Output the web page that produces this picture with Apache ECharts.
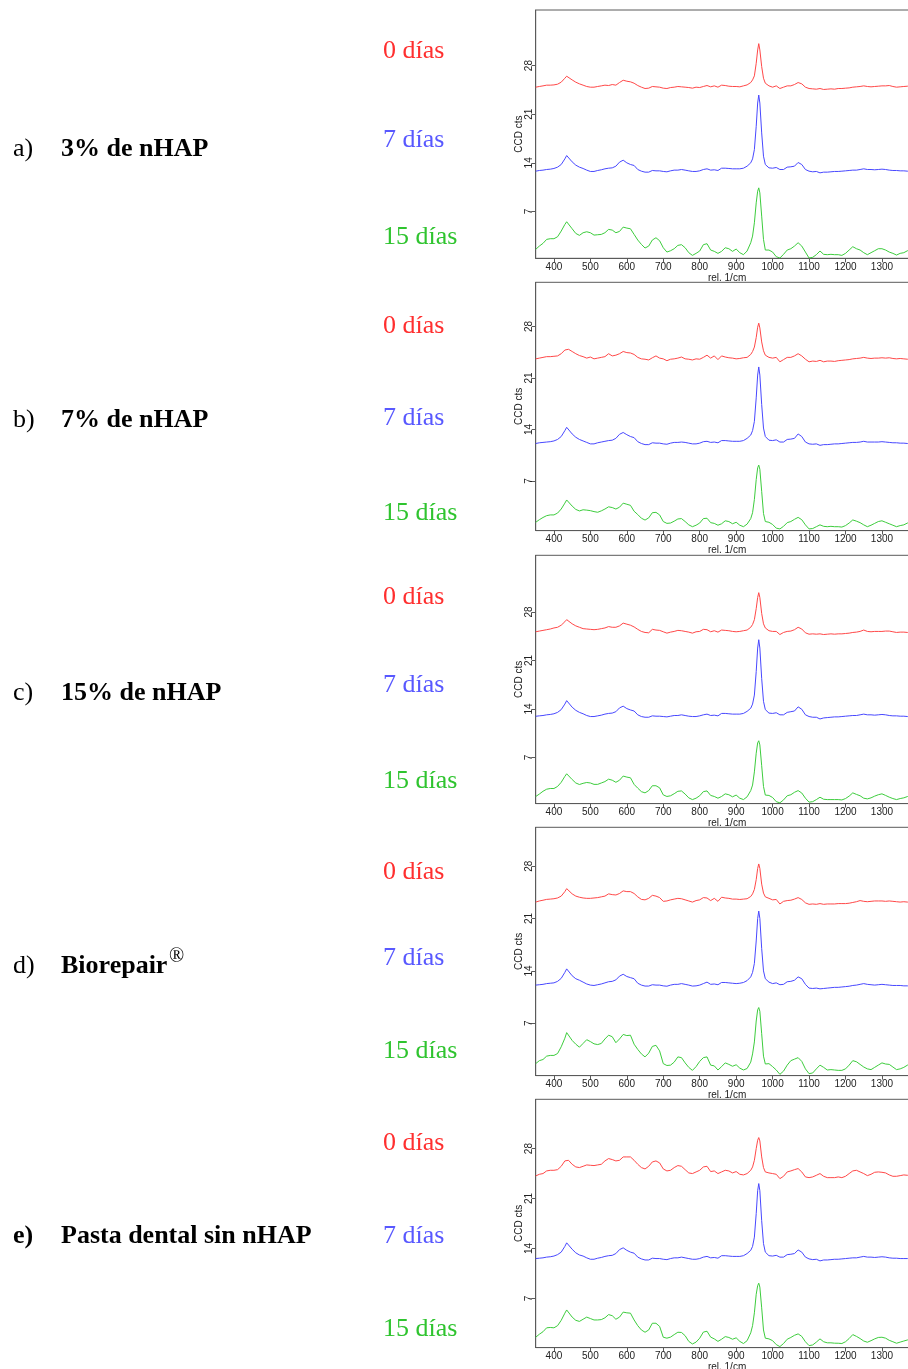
<!DOCTYPE html>
<html>
<head>
<meta charset="utf-8">
<script src="https://cdn.jsdelivr.net/npm/echarts@6/dist/echarts.min.js"></script>
<style>
  html, body { margin: 0; padding: 0; background: #ffffff; }
  #chart { width: 908px; height: 1369px; }
</style>
</head>
<body>
<div id="chart"></div>
<script>
// Raman shift sampling (rel. 1/cm), denser around the 962 band
const wavenumber = [
  350,360,370,380,390,400,410,420,430,435,
  440,450,460,470,480,490,500,510,520,530,
  540,550,560,570,580,590,600,610,620,630,
  640,650,660,670,680,690,700,710,720,730,
  740,750,760,770,780,790,800,810,820,830,
  840,850,860,870,880,890,900,910,920,930,
  940,945,950,955,959,962,965,970,975,980,
  990,1000,1010,1020,1030,1040,1050,1060,1070,1080,
  1090,1100,1110,1120,1130,1140,1150,1160,1170,1180,
  1190,1200,1210,1220,1230,1240,1250,1260,1270,1280,
  1290,1300,1310,1320,1330,1340,1350,1360,1370,1380
];

// a) 3% de nHAP
const a_0dias = [
  24.89,24.99,25.08,25.18,25.18,25.22,25.32,25.61,26.18,26.47,
  26.28,25.94,25.61,25.37,25.18,24.99,24.89,24.89,24.99,25.08,
  25.18,25.13,25.27,25.18,25.56,25.89,25.75,25.66,25.46,25.13,
  24.89,24.70,24.75,24.99,24.94,24.89,24.75,24.70,24.84,24.89,
  24.99,24.94,24.89,24.84,24.75,24.89,24.84,24.99,25.13,24.94,
  25.08,24.89,25.18,25.13,25.03,24.99,24.99,24.94,25.08,25.22,
  25.56,25.94,26.52,28.33,30.25,31.16,30.25,27.86,26.18,25.46,
  25.08,24.89,25.08,24.70,24.89,25.08,25.08,25.27,25.56,25.37,
  24.89,24.70,24.65,24.60,24.70,24.56,24.60,24.65,24.60,24.70,
  24.70,24.75,24.79,24.89,24.94,24.99,25.08,24.99,24.94,24.99,
  25.03,25.08,25.08,25.13,24.99,24.89,24.94,24.99,25.03,24.99
];
const a_7dias = [
  12.80,12.90,12.95,13.04,13.09,13.19,13.38,13.76,14.57,15.05,
  14.86,14.14,13.67,13.38,13.19,12.95,12.76,12.76,12.90,13.00,
  13.14,13.23,13.28,13.52,14.10,14.38,14.00,13.76,13.62,13.04,
  12.80,12.66,12.66,12.90,12.85,12.85,12.76,12.71,12.85,12.95,
  12.95,13.04,12.95,12.85,12.76,12.76,12.85,13.04,13.14,12.95,
  13.00,12.90,13.23,13.23,13.19,13.14,13.14,13.14,13.23,13.52,
  14.00,14.57,15.91,19.26,22.61,23.76,22.61,18.31,14.96,13.76,
  13.28,13.23,13.33,13.04,13.04,13.38,13.43,13.52,14.05,13.76,
  13.04,12.80,12.71,12.76,12.56,12.66,12.66,12.71,12.76,12.76,
  12.80,12.85,12.90,12.95,12.95,13.04,13.14,13.04,13.04,13.00,
  13.04,13.09,13.04,12.95,12.90,12.90,12.85,12.85,12.80,12.80
];
const a_15dias = [
  1.55,2.02,2.41,2.98,3.08,3.08,3.36,4.18,5.13,5.52,
  5.28,4.51,3.84,3.56,3.94,4.08,3.94,3.60,3.65,3.70,
  3.94,4.42,4.32,3.94,4.13,4.75,4.61,4.51,3.70,2.89,
  2.26,1.74,2.02,2.89,3.22,2.79,1.78,1.16,1.35,1.64,
  2.12,2.22,1.78,1.07,0.68,0.97,1.31,2.22,2.36,1.45,
  1.26,0.97,1.26,1.78,1.64,1.26,1.59,1.07,0.78,1.31,
  2.50,3.46,5.37,8.24,9.92,10.40,9.68,6.33,2.98,1.45,
  1.45,1.16,0.49,0.30,0.83,1.45,1.64,2.02,2.50,2.02,
  1.16,0.30,0.40,0.78,1.31,0.83,0.78,0.83,0.78,0.78,
  0.68,0.97,1.45,1.93,1.64,1.45,1.07,0.78,1.07,1.35,
  1.64,1.64,1.45,1.16,0.97,0.73,0.97,1.07,1.35,1.55
];

// b) 7% de nHAP
const b_0dias = [
  23.6,23.7,23.8,23.9,23.9,23.95,24.0,24.3,24.8,25.06,
  24.9,24.6,24.3,24.05,23.9,23.7,23.85,23.6,23.7,23.8,
  23.9,24.3,24.0,24.1,24.3,24.6,24.45,24.4,24.2,23.8,
  23.6,23.55,23.45,23.75,24.0,23.7,23.6,23.35,23.55,23.6,
  23.7,23.85,23.6,23.55,23.45,23.6,23.55,23.8,24.1,23.7,
  24.0,23.5,24.0,23.85,23.75,23.7,23.6,23.65,23.75,23.8,
  24.2,24.6,25.2,26.5,27.9,28.45,27.8,25.9,24.7,24.1,
  23.8,23.7,23.8,23.2,23.5,23.8,23.8,24.0,24.3,24.0,
  23.55,23.2,23.3,23.25,23.4,23.2,23.3,23.3,23.25,23.35,
  23.4,23.45,23.5,23.6,23.65,23.7,23.8,23.7,23.65,23.7,
  23.7,23.75,23.7,23.75,23.65,23.6,23.65,23.6,23.55,23.6
];
const b_7dias = [
  12.1,12.2,12.25,12.3,12.35,12.45,12.65,13.05,13.85,14.3,
  14.1,13.4,12.95,12.65,12.45,12.25,12.05,12.05,12.2,12.3,
  12.4,12.5,12.55,12.8,13.35,13.6,13.3,13.05,12.9,12.35,
  12.1,11.95,11.95,12.2,12.15,12.15,12.05,12.0,12.15,12.25,
  12.25,12.3,12.25,12.15,12.05,12.05,12.15,12.35,12.4,12.25,
  12.3,12.2,12.5,12.5,12.45,12.4,12.4,12.4,12.5,12.8,
  13.25,13.85,15.1,18.3,21.4,22.5,21.4,17.4,14.2,13.05,
  12.55,12.5,12.6,12.3,12.3,12.65,12.7,12.8,13.4,13.05,
  12.3,12.05,12.0,12.05,11.85,11.95,11.95,12.0,12.05,12.05,
  12.1,12.15,12.2,12.25,12.25,12.3,12.4,12.3,12.3,12.3,
  12.3,12.35,12.3,12.25,12.2,12.2,12.15,12.15,12.1,12.1
];
const b_15dias = [
  1.4,1.75,2.05,2.3,2.4,2.4,2.65,3.2,4.0,4.43,
  4.2,3.6,3.15,2.94,3.1,3.05,2.98,2.85,2.76,2.95,
  3.2,3.5,3.4,3.2,3.45,4.0,3.85,3.7,2.9,2.45,
  1.95,1.7,2.0,2.7,2.75,2.4,1.5,1.25,1.3,1.55,
  1.85,1.9,1.5,1.05,0.8,1.0,1.3,1.9,1.95,1.35,
  1.25,1.0,1.2,1.6,1.5,1.2,1.4,1.0,0.8,1.15,
  1.9,2.7,4.5,7.2,8.8,9.17,8.6,5.6,2.6,1.5,
  1.4,1.1,0.6,0.5,0.85,1.35,1.5,1.8,2.07,1.75,
  1.05,0.5,0.55,0.8,1.05,0.85,0.8,0.85,0.8,0.8,
  0.75,0.95,1.3,1.72,1.55,1.35,1.05,0.8,1.0,1.25,
  1.5,1.6,1.4,1.2,1.0,0.8,0.95,1.05,1.3,1.45
];

// c) 15% de nHAP
const c_0dias = [
  25.15,25.25,25.35,25.45,25.55,25.7,25.8,26.1,26.6,26.9,
  26.75,26.3,26.0,25.8,25.6,25.55,25.5,25.45,25.5,25.6,
  25.7,25.9,25.8,25.8,26.0,26.4,26.25,26.1,25.85,25.5,
  25.2,25.05,25.0,25.5,25.4,25.35,25.15,24.95,25.1,25.2,
  25.35,25.3,25.2,25.1,24.95,25.15,25.2,25.5,25.45,25.15,
  25.3,25.1,25.4,25.35,25.3,25.2,25.15,25.2,25.3,25.4,
  25.8,26.2,26.9,28.5,30.1,30.8,30.1,27.8,26.3,25.7,
  25.3,25.2,25.2,24.75,25.05,25.2,25.25,25.45,25.8,25.55,
  25.0,24.8,24.85,24.8,24.85,24.75,24.8,24.85,24.8,24.85,
  24.85,24.9,24.95,25.05,25.1,25.2,25.4,25.2,25.15,25.2,
  25.2,25.2,25.25,25.25,25.15,25.05,25.1,25.1,25.05,25.05
];
const c_7dias = [
  12.94,13.0,13.05,13.15,13.2,13.3,13.5,13.9,14.7,15.2,
  15.0,14.25,13.8,13.5,13.3,13.05,12.9,12.9,13.0,13.1,
  13.25,13.35,13.4,13.6,14.15,14.4,14.05,13.85,13.7,13.15,
  12.9,12.8,12.8,13.0,12.95,12.95,12.9,12.85,12.95,13.05,
  13.05,13.15,13.05,12.95,12.9,12.9,13.0,13.15,13.25,13.05,
  13.1,13.0,13.35,13.35,13.3,13.25,13.25,13.25,13.35,13.65,
  14.1,14.7,16.0,19.4,22.8,24.0,22.8,18.4,15.1,13.9,
  13.4,13.35,13.45,13.15,13.15,13.5,13.6,13.7,14.3,13.95,
  13.15,12.9,12.8,12.8,12.55,12.7,12.75,12.8,12.85,12.85,
  12.9,12.95,13.0,13.05,13.05,13.15,13.25,13.15,13.15,13.1,
  13.15,13.2,13.15,13.05,13.0,13.0,12.95,12.95,12.9,12.9
];
const c_15dias = [
  1.34,1.7,2.1,2.4,2.5,2.5,2.8,3.4,4.25,4.63,
  4.4,3.8,3.3,3.08,3.25,3.37,3.3,3.1,3.1,3.3,
  3.5,3.85,3.7,3.4,3.7,4.3,4.15,4.05,3.1,2.55,
  2.05,1.87,2.2,2.9,2.9,2.6,1.58,1.35,1.45,1.75,
  2.1,2.15,1.7,1.15,0.9,1.1,1.45,2.05,2.15,1.5,
  1.35,1.1,1.35,1.73,1.6,1.3,1.55,1.1,0.9,1.3,
  2.2,3.0,4.9,7.6,9.1,9.4,8.8,5.8,2.8,1.55,
  1.5,1.2,0.6,0.43,0.85,1.45,1.6,1.95,2.2,1.85,
  1.1,0.53,0.6,0.9,1.24,0.95,0.9,0.9,0.9,0.9,
  0.85,1.05,1.4,1.87,1.65,1.45,1.1,1.0,1.15,1.4,
  1.6,1.73,1.5,1.25,1.05,0.9,1.05,1.15,1.34,1.45
];

// d) Biorepair
const d_0dias = [
  23.2,23.35,23.45,23.56,23.6,23.65,23.75,24.0,24.6,25.0,
  24.85,24.3,24.0,23.85,23.75,23.7,23.7,23.75,23.8,23.9,
  24.0,24.3,24.2,24.15,24.35,24.7,24.6,24.6,24.35,23.9,
  23.56,23.5,23.7,24.1,24.0,23.8,23.3,23.35,23.5,23.6,
  23.7,23.65,23.5,23.35,23.2,23.4,23.5,23.8,23.75,23.4,
  23.7,23.3,23.85,23.75,23.7,23.6,23.6,23.55,23.6,23.65,
  23.95,24.3,24.9,26.2,27.7,28.3,27.7,25.6,24.4,23.9,
  23.7,23.5,23.55,22.95,23.3,23.4,23.45,23.6,23.8,23.55,
  23.1,22.9,22.95,22.9,23.0,22.9,22.95,22.95,22.95,23.0,
  23.0,23.0,23.05,23.15,23.25,23.4,23.3,23.25,23.3,23.35,
  23.35,23.35,23.3,23.35,23.3,23.25,23.2,23.25,23.2,23.2
];
const d_7dias = [
  12.1,12.15,12.2,12.3,12.35,12.4,12.6,13.0,13.8,14.27,
  14.05,13.35,12.95,12.75,12.5,12.25,12.1,12.05,12.15,12.25,
  12.4,12.55,12.6,12.8,13.3,13.55,13.25,13.1,12.95,12.35,
  12.1,11.97,11.97,12.15,12.1,12.1,12.0,11.95,12.1,12.2,
  12.2,12.3,12.2,12.1,11.97,12.0,12.1,12.3,12.5,12.2,
  12.25,12.15,12.45,12.45,12.4,12.35,12.3,12.35,12.45,12.7,
  13.2,13.8,15.0,18.0,21.0,22.0,21.0,17.0,14.0,12.95,
  12.5,12.3,12.4,12.15,12.2,12.55,12.6,12.75,13.2,12.95,
  12.2,11.7,11.65,11.7,11.6,11.65,11.7,11.75,11.8,11.8,
  11.85,11.9,11.95,12.05,12.1,12.2,12.3,12.2,12.15,12.1,
  12.15,12.2,12.15,12.1,12.05,12.05,12.05,12.0,12.0,12.0
];
const d_15dias = [
  1.6,2.0,2.15,2.6,2.7,2.7,2.95,3.85,5.0,5.75,
  5.5,4.7,4.2,3.8,4.3,4.8,4.55,4.25,4.15,4.3,
  4.9,5.4,5.2,4.4,4.9,5.5,5.35,5.4,4.2,3.5,
  2.9,2.5,3.0,3.9,4.05,3.3,1.6,1.35,1.4,1.8,
  2.5,2.4,1.7,1.1,0.7,1.2,1.9,2.4,2.5,1.4,
  1.3,0.75,1.2,1.7,1.5,1.25,1.45,1.0,0.75,0.95,
  1.8,2.9,4.5,7.3,8.8,9.1,8.6,5.6,2.6,1.55,
  1.6,1.2,0.75,0.17,0.6,1.4,2.0,2.2,2.4,1.9,
  0.9,0.26,0.35,0.9,1.4,1.1,0.75,0.8,0.75,0.7,
  0.7,0.9,1.4,2.0,1.85,1.5,1.15,0.9,0.8,1.1,
  1.4,1.7,1.55,1.5,1.15,0.8,0.9,1.1,1.4,1.5
];

// e) Pasta dental sin nHAP
const e_0dias = [
  24.17,24.4,24.5,24.87,24.96,24.96,25.05,25.52,26.27,26.5,
  26.36,25.8,25.43,25.34,25.52,25.71,25.66,25.62,25.71,25.8,
  26.27,26.6,26.46,26.27,26.36,26.83,26.83,26.83,26.36,25.8,
  25.34,25.15,25.52,26.13,26.27,25.99,25.15,24.87,24.96,25.34,
  25.62,25.52,25.05,24.59,24.5,24.73,24.96,25.43,25.52,24.78,
  24.87,24.5,24.73,24.96,24.87,24.59,24.78,24.4,24.31,24.5,
  24.96,25.43,26.36,28.0,29.17,29.54,29.07,26.83,25.34,24.73,
  24.59,24.5,24.4,23.79,24.12,24.73,24.87,25.05,25.2,24.73,
  24.03,23.93,24.03,24.26,24.5,24.12,23.93,23.93,23.93,24.03,
  23.93,24.12,24.5,24.87,24.96,24.73,24.5,24.21,24.4,24.68,
  24.73,24.68,24.59,24.31,24.12,24.12,24.21,24.31,24.26,24.31
];
const e_7dias = [
  12.6,12.65,12.7,12.8,12.85,12.95,13.15,13.5,14.3,14.8,
  14.6,13.9,13.4,13.1,12.95,12.7,12.5,12.5,12.65,12.75,
  12.9,13.0,13.05,13.3,13.85,14.1,13.75,13.5,13.35,12.8,
  12.55,12.4,12.4,12.65,12.6,12.6,12.5,12.45,12.6,12.7,
  12.7,12.8,12.7,12.6,12.5,12.5,12.6,12.8,12.9,12.7,
  12.75,12.65,13.0,13.0,12.95,12.9,12.9,12.9,13.0,13.3,
  13.75,14.3,15.6,18.9,22.1,23.1,22.1,17.9,14.7,13.5,
  13.0,12.95,13.05,12.8,12.8,13.15,13.2,13.3,13.8,13.5,
  12.8,12.55,12.45,12.5,12.27,12.4,12.4,12.45,12.5,12.5,
  12.55,12.6,12.65,12.7,12.7,12.8,12.9,12.8,12.8,12.75,
  12.8,12.85,12.8,12.7,12.65,12.65,12.6,12.6,12.6,12.6
];
const e_15dias = [
  1.58,2.0,2.35,2.9,2.95,2.9,3.2,3.95,4.95,5.4,
  5.15,4.4,3.95,3.8,4.1,4.4,4.2,4.0,4.0,4.05,
  4.3,4.75,4.6,4.1,4.4,5.1,5.0,4.95,4.0,3.2,
  2.6,2.28,2.6,3.54,3.54,3.1,1.58,1.45,1.6,1.95,
  2.28,2.25,1.8,1.0,0.64,0.9,1.45,2.3,2.42,1.6,
  1.35,1.0,1.3,1.67,1.55,1.3,1.5,1.0,0.7,1.1,
  2.2,3.2,5.0,7.6,8.8,9.15,8.6,5.7,2.6,1.45,
  1.35,1.1,0.55,0.27,0.7,1.3,1.55,1.85,2.05,1.7,
  0.95,0.41,0.5,0.9,1.35,0.95,0.8,0.8,0.75,0.74,
  0.7,0.95,1.4,1.95,1.7,1.4,1.05,0.88,1.1,1.35,
  1.55,1.58,1.45,1.15,0.95,0.74,0.9,1.05,1.2,1.35
];

// Axis ticks and labels
const xTicks = [400, 500, 600, 700, 800, 900, 1000, 1100, 1200, 1300];
const yTicks = [7, 14, 21, 28];
const xRange = [350, 1400];
const yMin = [0.26, 0.27, 0.32, 0, 0.13];
const yMax = [36, 34, 36.2, 33.2, 34.9];

const panelLetters = ['a)', 'b)', 'c)', 'd)', 'e)'];
const panelNames = ['3% de nHAP', '7% de nHAP', '15% de nHAP', 'Biorepair', 'Pasta dental sin nHAP'];
const dayLabels = ['0 días', '7 días', '15 días'];

const panelSpectra = [
  [a_0dias, a_7dias, a_15dias],
  [b_0dias, b_7dias, b_15dias],
  [c_0dias, c_7dias, c_15dias],
  [d_0dias, d_7dias, d_15dias],
  [e_0dias, e_7dias, e_15dias]
];

// Layout (pixels)
const GRID_LEFT = 535.7;
const GRID_WIDTH = 382.7;
const GRID_HEIGHT = 248.3;
const gridTop = [10, 282.3, 555.3, 827.3, 1099.3];
const dayLabelY = [
  [50.9, 139.9, 237.2],
  [325.9, 418.5, 513.2],
  [597.5, 685.5, 781.5],
  [872.5, 958.2, 1050.9],
  [1143, 1236, 1329]
];
const panelLabelY = [149.2, 420.5, 693.2, 966.5, 1236];

const lineColors = ['#ff4848', '#4848ff', '#3dcc3d'];
const textColors = ['#ff2f2f', '#5858ff', '#2fc42f'];
const AXIS_COLOR = '#5a5a5a';
const SANS = '"Liberation Sans", Arial, sans-serif';
const SERIF = '"Liberation Serif", "Times New Roman", serif';

const grids = [], xAxes = [], yAxes = [], series = [], graphics = [];

panelSpectra.forEach((spectra, p) => {
  grids.push({
    left: GRID_LEFT, top: gridTop[p], width: GRID_WIDTH, height: GRID_HEIGHT,
    show: true, borderColor: AXIS_COLOR, borderWidth: 1,
    containLabel: false, outerBoundsMode: 'none'
  });
  xAxes.push({
    type: 'value', gridIndex: p, min: xRange[0], max: xRange[1],
    axisLine: { show: true, lineStyle: { color: AXIS_COLOR, width: 1 } },
    axisTick: { show: true, length: 4, customValues: xTicks, lineStyle: { color: AXIS_COLOR } },
    axisLabel: {
      customValues: xTicks, fontSize: 10, fontFamily: SANS, color: '#222', margin: 4,
      formatter: v => String(v)
    },
    splitLine: { show: false },
    name: 'rel. 1/cm', nameLocation: 'middle', nameGap: 13,
    nameTextStyle: { fontSize: 10, fontFamily: SANS, color: '#222' }
  });
  yAxes.push({
    type: 'value', gridIndex: p, min: yMin[p], max: yMax[p],
    axisLine: { show: true, lineStyle: { color: AXIS_COLOR, width: 1 } },
    axisTick: { show: true, length: 4, customValues: yTicks, lineStyle: { color: AXIS_COLOR } },
    axisLabel: {
      customValues: yTicks, rotate: 90, fontSize: 10, fontFamily: SANS, color: '#222', margin: 1,
      formatter: v => String(v)
    },
    splitLine: { show: false },
    name: 'CCD cts', nameLocation: 'middle', nameGap: 9, nameRotate: 90,
    nameTextStyle: { fontSize: 10, fontFamily: SANS, color: '#222' }
  });
  spectra.forEach((values, k) => {
    series.push({
      type: 'line', xAxisIndex: p, yAxisIndex: p,
      data: wavenumber.map((w, i) => [w, values[i]]),
      showSymbol: false, symbol: 'none', silent: true,
      lineStyle: { color: lineColors[k], width: 1 }
    });
    graphics.push({
      type: 'text', x: 383, y: dayLabelY[p][k], silent: true,
      style: { text: dayLabels[k], fill: textColors[k], font: '26px ' + SERIF, verticalAlign: 'middle' }
    });
  });
  graphics.push({
    type: 'text', x: 13, y: panelLabelY[p], silent: true,
    style: { text: panelLetters[p], fill: '#000', font: (p === 4 ? 'bold ' : '') + '26px ' + SERIF, verticalAlign: 'middle' }
  });
  graphics.push({
    type: 'text', x: 61, y: panelLabelY[p], silent: true,
    style: { text: panelNames[p], fill: '#000', font: 'bold 26px ' + SERIF, verticalAlign: 'middle' }
  });
});

// registered-trademark superscript after "Biorepair"
graphics.push({
  type: 'text', x: 169, y: 957, silent: true,
  style: { text: '®', fill: '#000', font: '20px ' + SERIF, verticalAlign: 'middle' }
});

const chart = echarts.init(document.getElementById('chart'), null, { renderer: 'canvas' });
chart.setOption({
  animation: false,
  backgroundColor: '#ffffff',
  grid: grids,
  xAxis: xAxes,
  yAxis: yAxes,
  series: series,
  graphic: graphics
});
</script>
</body>
</html>
